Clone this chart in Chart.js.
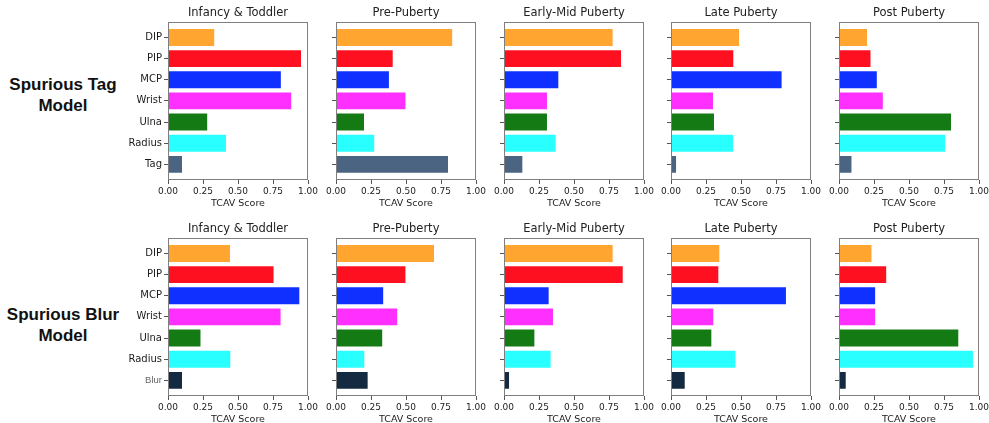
<!DOCTYPE html>
<html>
<head>
<meta charset="utf-8">
<script src="https://cdn.jsdelivr.net/npm/chart.js@4.4.0/dist/chart.umd.min.js"></script>
<style>
  html, body { margin: 0; padding: 0; background: #fff; width: 989px; height: 423px; overflow: hidden; }
  #wrap { position: relative; width: 989px; height: 423px; }
  canvas { position: absolute; }
  .rowlabel { position: absolute; width: 130px; text-align: center; font-family: 'Liberation Sans', Arial, sans-serif; font-weight: bold; font-size: 17px; line-height: 21px; color: #111; }
</style>
</head>
<body>
<div id="wrap">
  <div class="rowlabel" style="left:-2px; top:74px;">Spurious Tag<br>Model</div>
  <div class="rowlabel" style="left:-2px; top:304px;">Spurious Blur<br>Model</div>
</div>
<script>
// ---- data ----
const stages = ['Infancy & Toddler', 'Pre-Puberty', 'Early-Mid Puberty', 'Late Puberty', 'Post Puberty'];
const tagCategories = ['DIP', 'PIP', 'MCP', 'Wrist', 'Ulna', 'Radius', 'Tag'];
const blurCategories = ['DIP', 'PIP', 'MCP', 'Wrist', 'Ulna', 'Radius', 'Blur'];
const xTicks = [0, 0.25, 0.5, 0.75, 1.0];

// Spurious Tag model (DIP, PIP, MCP, Wrist, Ulna, Radius, Tag)
const tagInfancy   = [0.33, 0.95, 0.806, 0.88, 0.28, 0.414, 0.10];
const tagPre       = [0.83, 0.405, 0.378, 0.496, 0.20, 0.273, 0.80];
const tagEarlyMid  = [0.776, 0.836, 0.388, 0.307, 0.307, 0.369, 0.131];
const tagLate      = [0.486, 0.445, 0.79, 0.30, 0.307, 0.443, 0.036];
const tagPost      = [0.20, 0.225, 0.27, 0.313, 0.80, 0.758, 0.089];

// Spurious Blur model (DIP, PIP, MCP, Wrist, Ulna, Radius, Blur)
const blurInfancy  = [0.443, 0.754, 0.938, 0.804, 0.232, 0.445, 0.10];
const blurPre      = [0.70, 0.496, 0.337, 0.437, 0.33, 0.202, 0.226];
const blurEarlyMid = [0.776, 0.848, 0.319, 0.35, 0.217, 0.333, 0.036];
const blurLate     = [0.345, 0.338, 0.821, 0.302, 0.288, 0.46, 0.098];
const blurPost     = [0.232, 0.337, 0.258, 0.258, 0.852, 0.957, 0.048];

const tagColors  = ['#ffa530', '#ff1020', '#1030ff', '#ff30ff', '#147a14', '#2affff', '#4a6482'];
const blurColors = ['#ffa530', '#ff1020', '#1030ff', '#ff30ff', '#147a14', '#2affff', '#142a40'];

const rows = [
  { categories: tagCategories, colors: tagColors, series: [tagInfancy, tagPre, tagEarlyMid, tagLate, tagPost], top: 0 },
  { categories: blurCategories, colors: blurColors, series: [blurInfancy, blurPre, blurEarlyMid, blurLate, blurPost], top: 216 }
];

// ---- layout ----
const plotLefts = [168, 336, 504, 671, 839];
const AXIS_W = 45, PLOT_W = 140, RIGHT_PAD = 20, CANVAS_H = 215;

const framePlugin = {
  id: 'frame',
  afterDraw(chart) {
    const { ctx, chartArea: a } = chart;
    ctx.save();
    ctx.strokeStyle = '#7f7f7f';
    ctx.lineWidth = 1;
    ctx.strokeRect(Math.round(a.left) + 0.5, Math.round(a.top) + 0.5, Math.round(a.right - a.left) - 1, Math.round(a.bottom - a.top) - 1);
    ctx.restore();
  }
};

const wrap = document.getElementById('wrap');
rows.forEach((row, r) => {
  row.series.forEach((values, c) => {
    const cv = document.createElement('canvas');
    cv.width = AXIS_W + PLOT_W + RIGHT_PAD;
    cv.height = CANVAS_H;
    cv.style.left = (plotLefts[c] - AXIS_W) + 'px';
    cv.style.top = row.top + 'px';
    cv.style.width = cv.width + 'px';
    cv.style.height = cv.height + 'px';
    wrap.appendChild(cv);
    const showLabels = c === 0;
    new Chart(cv, {
      type: 'bar',
      data: {
        datasets: [{
          data: values.map((v, i) => ({ x: v, y: i })),
          backgroundColor: row.colors,
          borderWidth: 0,
          categoryPercentage: 0.8,
          barPercentage: 1.0
        }]
      },
      options: {
        indexAxis: 'y',
        responsive: false,
        animation: false,
        devicePixelRatio: 1,
        layout: { padding: { left: 0, right: RIGHT_PAD, top: 0, bottom: 0 } },
        plugins: {
          legend: { display: false },
          tooltip: { enabled: false },
          title: {
            display: true,
            fullSize: false,
            text: stages[c],
            color: '#222',
            font: { family: 'DejaVu Sans', size: 11.5, weight: 'normal' },
            padding: { top: 6, bottom: 2 }
          }
        },
        scales: {
          x: {
            type: 'linear',
            min: 0,
            max: 1,
            afterBuildTicks: s => { s.ticks = xTicks.map(v => ({ value: v })); },
            afterFit: s => { s.height = 35; },
            border: { display: false },
            grid: { drawOnChartArea: false, drawTicks: true, tickLength: 4, color: '#555' },
            ticks: {
              color: '#222',
              padding: 2,
              maxRotation: 0,
              autoSkip: false,
              font: { family: 'DejaVu Sans', size: 9 },
              callback: v => Number(v).toFixed(2)
            },
            title: {
              display: true,
              text: 'TCAV Score',
              color: '#222',
              font: { family: 'DejaVu Sans', size: 9.5 },
              padding: { top: 0, bottom: 6 }
            }
          },
          y: {
            type: 'linear',
            reverse: true,
            offset: false,
            bounds: 'data',
            min: -0.74,
            max: 6.74,
            afterBuildTicks: s => { s.ticks = row.categories.map((_, i) => ({ value: i })); },
            afterFit: s => { s.width = AXIS_W; },
            border: { display: false },
            grid: { offset: false, drawOnChartArea: false, drawTicks: true, tickLength: 4, color: '#555' },
            ticks: {
              autoSkip: false,
              padding: 2,
              font: ctx => (r === 1 && ctx.index === 6)
                ? { family: 'Liberation Sans', size: 9.5 }
                : { family: 'DejaVu Sans', size: 10 },
              color: ctx => (r === 1 && ctx.index === 6) ? '#666' : '#1a1a1a',
              callback: v => showLabels ? (row.categories[Math.round(v)] || '') : ''
            }
          }
        }
      },
      plugins: [framePlugin]
    });
  });
});
</script>
</body>
</html>
